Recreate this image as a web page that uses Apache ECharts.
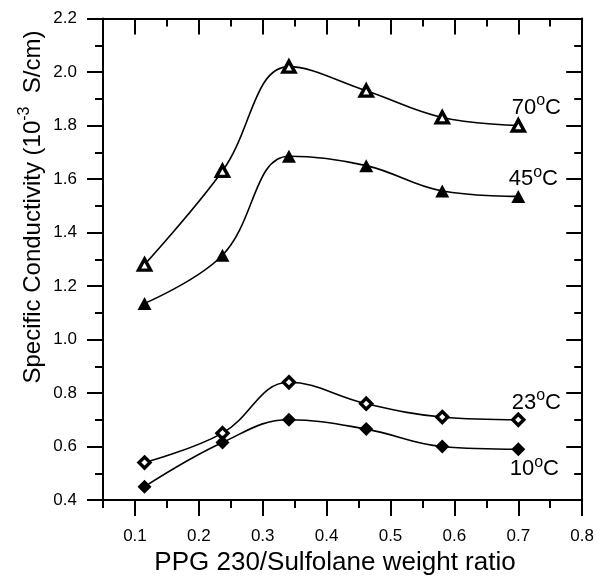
<!DOCTYPE html>
<html><head><meta charset="utf-8">
<script src="https://cdn.jsdelivr.net/npm/echarts@6/dist/echarts.min.js"></script>
<style>html,body{margin:0;padding:0;background:#fff}#c{width:597px;height:576px}</style>
</head><body><div id="c"></div>
<script>
// Data
const ratio = [0.115, 0.237, 0.341, 0.462, 0.581, 0.70];
const c70 = [1.28, 1.63, 2.02, 1.93, 1.83, 1.80];
const c45 = [1.135, 1.315, 1.685, 1.65, 1.555, 1.535];
const c23 = [0.54, 0.65, 0.84, 0.76, 0.71, 0.70];
const c10 = [0.45, 0.615, 0.70, 0.665, 0.60, 0.59];
const tempLabels = ['70', '45', '23', '10'];
const xMajorTicks = [0.1, 0.2, 0.3, 0.4, 0.5, 0.6, 0.7, 0.8];
const xMinorTicks = [0.05, 0.15, 0.25, 0.35, 0.45, 0.55, 0.65, 0.75];
const xTitle = 'PPG 230/Sulfolane weight ratio';

const FONT = 'Liberation Sans, Arial, sans-serif';
const chart = echarts.init(document.getElementById('c'), null, {renderer: 'canvas'});

const lineStyleAxis = {color: '#000', width: 2};
const richLabel = {
  n: {fontFamily: FONT, fontSize: 22, color: '#000', lineHeight: 26, verticalAlign: 'bottom'},
  s: {fontFamily: FONT, fontSize: 16, color: '#000', lineHeight: 10, verticalAlign: 'top'}
};

function buildData(vals, tLabel, offset) {
  return vals.map((v, i) => {
    if (i === vals.length - 1) {
      return {
        value: [ratio[i], v],
        label: {
          show: true, position: 'inside', offset: offset,
          formatter: '{n|' + tLabel + '}{s|o}{n|C}', rich: richLabel
        }
      };
    }
    return [ratio[i], v];
  });
}

function mkSeries(vals, tLabel, symbol, open, offset) {
  return {
    type: 'line', xAxisIndex: 0, yAxisIndex: 0,
    data: buildData(vals, tLabel, offset),
    smooth: 0.4,
    symbol: symbol,
    symbolSize: open ? (symbol === 'triangle' ? [12, 11] : [11, 11]) : (symbol === 'triangle' ? [14, 13] : [14, 14]),
    showAllSymbol: true,
    lineStyle: {color: '#000', width: 1.6},
    itemStyle: open ? {color: '#fff', borderColor: '#000', borderWidth: 3.4} : {color: '#000', borderColor: '#000', borderWidth: 0},
    emphasis: {disabled: true},
    z: 3
  };
}

const option = {
  animation: false,
  backgroundColor: '#fff',
  grid: {left: 103, right: 14, top: 18.5, bottom: 76, containLabel: false},
  xAxis: [
    { type: 'value', position: 'bottom', min: 0.05, max: 0.8,
      axisLine: {show: true, onZero: false, lineStyle: lineStyleAxis},
      axisTick: {show: true, inside: false, length: 16, lineStyle: {width: 2, color: '#000'}, customValues: xMajorTicks},
      axisLabel: {show: true, customValues: xMajorTicks, margin: 28, color: '#000', fontFamily: FONT, fontSize: 17,
        formatter: v => v.toFixed(1)},
      splitLine: {show: false}
    },
    { type: 'value', position: 'bottom', min: 0.05, max: 0.8,
      axisLine: {show: false, onZero: false},
      axisTick: {show: true, inside: false, length: 8, lineStyle: {width: 2, color: '#000'}, customValues: xMinorTicks},
      axisLabel: {show: false}, splitLine: {show: false}
    },
    { type: 'value', position: 'top', min: 0.05, max: 0.8,
      axisLine: {show: true, onZero: false, lineStyle: lineStyleAxis},
      axisTick: {show: true, inside: true, length: 16, lineStyle: {width: 2, color: '#000'}, customValues: xMajorTicks},
      axisLabel: {show: false}, splitLine: {show: false}
    },
    { type: 'value', position: 'top', min: 0.05, max: 0.8,
      axisLine: {show: false, onZero: false},
      axisTick: {show: true, inside: true, length: 8, lineStyle: {width: 2, color: '#000'}, customValues: xMinorTicks},
      axisLabel: {show: false}, splitLine: {show: false}
    }
  ],
  yAxis: [
    { type: 'value', position: 'left', min: 0.4, max: 2.2, interval: 0.2,
      axisLine: {show: true, onZero: false, lineStyle: lineStyleAxis},
      axisTick: {show: true, inside: false, length: 16, lineStyle: {width: 2, color: '#000'}},
      minorTick: {show: true, splitNumber: 2, length: 8, lineStyle: {width: 2, color: '#000'}},
      axisLabel: {show: true, margin: 26, color: '#000', fontFamily: FONT, fontSize: 17,
        formatter: v => v.toFixed(1)},
      splitLine: {show: false}
    },
    { type: 'value', position: 'right', min: 0.4, max: 2.2, interval: 0.2,
      axisLine: {show: true, onZero: false, lineStyle: lineStyleAxis},
      axisTick: {show: true, inside: true, length: 16, lineStyle: {width: 2, color: '#000'}},
      minorTick: {show: true, splitNumber: 2, length: 8, lineStyle: {width: 2, color: '#000'}},
      axisLabel: {show: false},
      splitLine: {show: false}
    }
  ],
  graphic: [
    { type: 'text', x: 31, y: 207, rotation: Math.PI / 2, z: 10,
      style: {
        text: '{t|Specific Conductivity (10}{s|-3}{t|  S/cm)}',
        align: 'center', verticalAlign: 'middle',
        rich: {
          t: {fontFamily: FONT, fontSize: 24, color: '#000', lineHeight: 28, verticalAlign: 'bottom'},
          s: {fontFamily: FONT, fontSize: 16, color: '#000', lineHeight: 14, verticalAlign: 'top'}
        }
      }
    },
    { type: 'text', x: 335, y: 563, z: 10,
      style: {text: xTitle, fontFamily: FONT, fontSize: 26, fill: '#000', align: 'center', verticalAlign: 'middle'}
    }
  ],
  series: [
    mkSeries(c70, tempLabels[0], 'triangle', true, [18, -20]),
    mkSeries(c45, tempLabels[1], 'triangle', false, [15, -19]),
    mkSeries(c23, tempLabels[2], 'diamond', true, [18, -19]),
    mkSeries(c10, tempLabels[3], 'diamond', false, [16, 18])
  ]
};
chart.setOption(option);
</script>
</body></html>
